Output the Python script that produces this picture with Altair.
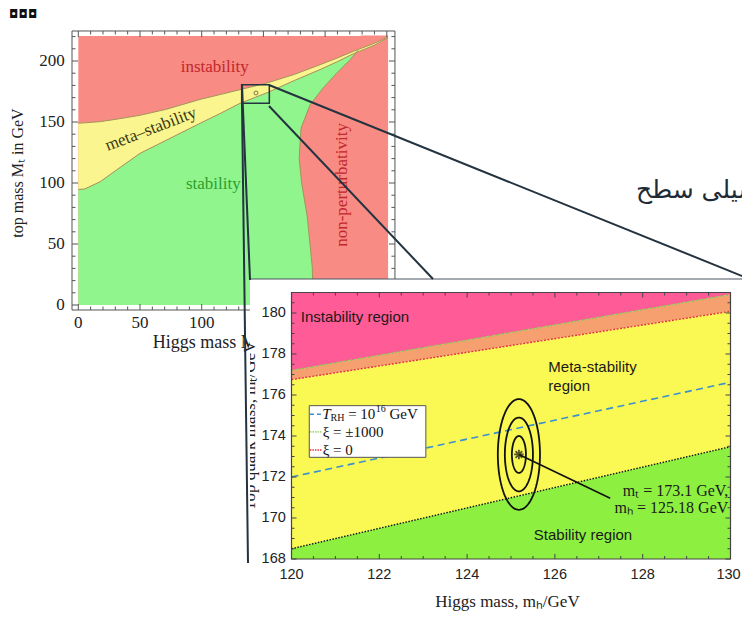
import altair as alt
import numpy as np
import pandas as pd

W, H = 734, 606
M = 8  # page margin

SERIF = "Liberation Serif"
SANS = "Liberation Sans"

# ---------------- left chart: phase diagram (Higgs mass vs top mass) ----------------
pd_x = [0, 5, 17.6, 31, 50, 71.6, 98.6, 115, 131, 153, 175, 196, 210, 223, 240, 251]
pd_lower = [94.8, 95, 101, 110.7, 124.3, 135.2, 148.9, 157, 165.3, 174, 184, 193, 199.5, 206, 213, 219.3]
pd_upper = [149, 149.3, 150.3, 152.3, 155.5, 160.5, 168.5, 172.5, 176.5, 182, 189, 197, 202.5, 208, 214.5, 219.8]
np_y = [0, 31, 72, 100, 120, 145, 164, 178, 190, 201, 209]
np_x = [190.4, 189.6, 185.6, 181, 179, 180.5, 187.8, 198.5, 209.4, 220.2, 226.9]
np_area_y = np_y + [215, 221]
np_area_x = np_x + [228.5, 229]
pd_xtick_labels = [0, 50, 100]          # 150-250 are hidden under the inset
pd_ytick_labels = [0, 50, 100, 150, 200]
pd_xticks = list(range(0, 251, 10))
pd_yticks = list(range(0, 221, 10))
zoom_box = [132.4, 154.8, 165.3, 180.6]
zoom_dot = [144.0, 173.8]

# ---------------- inset: zoom of the SM point ----------------
mh_ends = [120, 130]
xi1000_line = [177.2, 180.9]
xi0_line = [176.75, 180.08]
stab_line = [168.5, 173.48]
trh_line = [172.0, 176.62]
mt_c, mh_c = 173.1, 125.18
mt_sig, mh_sig = 0.9, 0.16
sig_levels = [1, 2, 3]
arrow_end = [127.26, 170.96]
in_xtick_labels = [120, 122, 124, 126, 128, 130]
in_ytick_labels = [168, 170, 172, 174, 176, 178, 180]
in_minor_x = [120 + 0.5 * i for i in range(21)]
in_minor_y = [168 + 0.5 * i for i in range(27)]

# colours
RED = "#F88B84"
YEL = "#FAF58E"
GRN = "#8FF58C"
EDGE = "#A3955A"
PINK = "#FF5B97"
ORNG = "#F7A06F"
IYEL = "#FAF853"
IGRN = "#8DF041"
BLUE = "#3A8FD0"
DRED = "#E33340"
DGRN = "#86C84C"
INK = "#243340"


def bx(v): return 78.3 + v * 1.234 - M
def by(v): return 305 - v * 1.22 - M
def ix(v): return 291.5 + (v - 120) * 43.9 - M
def iy(v): return 559 - (v - 168) * 20.5 - M


def sc(domain, r0, r1):
    return alt.Scale(domain=domain, range=[r0, r1], zero=False, nice=False)


BXS = sc([0, 250], bx(0), bx(250))
BYS = sc([0, 200], by(0), by(200))
IXS = sc([120, 130], ix(120), ix(130))
IYS = sc([168, 180], iy(168), iy(180))
SXS = sc([M, W + M], 0, W)
SYS = sc([M, H + M], 0, H)


def ex(f, s): return alt.X(f, type="quantitative", scale=s, axis=None)
def ey(f, s): return alt.Y(f, type="quantitative", scale=s, axis=None)


def texts(rows, xs, ys, **kw):
    df = pd.DataFrame(rows, columns=["text", "x", "y"])
    return alt.Chart(df).mark_text(**kw).encode(x=ex("x", xs), y=ey("y", ys), text="text:N")


def segs(rows, xs, ys, **kw):
    df = pd.DataFrame(rows, columns=["x", "y", "x2", "y2"])
    return alt.Chart(df).mark_rule(**kw).encode(
        x=ex("x", xs), y=ey("y", ys), x2=alt.X2("x2"), y2=alt.Y2("y2"))


def rect(x1, x2, y1, y2, xs, ys, **kw):
    df = pd.DataFrame({"x": [x1], "x2": [x2], "y": [y1], "y2": [y2]})
    return alt.Chart(df).mark_rect(**kw).encode(
        x=ex("x", xs), x2=alt.X2("x2"), y=ey("y", ys), y2=alt.Y2("y2"))


def path(xv, yv, xs, ys, **kw):
    df = pd.DataFrame({"x": list(xv), "y": list(yv), "i": list(range(len(xv)))})
    return alt.Chart(df).mark_line(**kw).encode(x=ex("x", xs), y=ey("y", ys), order="i:Q")


def varea(xv, lo, hi, xs, ys, color):
    df = pd.DataFrame({"x": list(xv), "lo": list(lo), "hi": list(hi)})
    return alt.Chart(df).mark_area(color=color, opacity=1).encode(
        x=ex("x", xs), y=ey("lo", ys), y2=alt.Y2("hi"))


def ticks_x(vals, xs, y0, y1, **kw):
    df = pd.DataFrame({"v": vals})
    return alt.Chart(df).mark_rule(**kw).encode(x=ex("v", xs), y=alt.value(y0), y2=alt.value(y1))


def ticks_y(vals, ys, x0, x1, **kw):
    df = pd.DataFrame({"v": vals})
    return alt.Chart(df).mark_rule(**kw).encode(y=ey("v", ys), x=alt.value(x0), x2=alt.value(x1))


layers = []

# ---- slide decorations behind ----
layers.append(texts([["◘◘◘", 9, 14]], SXS, SYS, font="DejaVu Sans", fontSize=12,
                    color="#111", align="left", baseline="middle"))
layers.append(texts([["پتانسیلی سطح", 636, 190]], SXS, SYS, font="DejaVu Sans", fontSize=25,
                    color="#1E2A36", align="left", baseline="middle"))

# ---- phase diagram ----
layers.append(rect(0, 251, 0, 220.5, BXS, BYS, color=RED))
layers.append(varea(pd_x, [0] * len(pd_x), pd_lower, BXS, BYS, GRN))
np_df = pd.DataFrame({"y": np_area_y, "x": np_area_x, "x2": [251] * len(np_area_y)})
layers.append(alt.Chart(np_df).mark_area(orient="horizontal", color=RED, opacity=1).encode(
    y=ey("y", BYS), x=ex("x", BXS), x2=alt.X2("x2")))
layers.append(varea(pd_x, pd_lower, pd_upper, BXS, BYS, YEL))
for xv, yv in [(pd_x, pd_lower), (pd_x, pd_upper), (np_x, np_y)]:
    layers.append(path(xv, yv, BXS, BYS, color=EDGE, strokeWidth=1))

FL, FR, FB, FT = -5.1, 256.6, -4.1, 224.6
layers.append(rect(FL, FR, FB, FT, BXS, BYS, fillOpacity=0, stroke="#555", strokeWidth=1))
maj_x = [v for v in pd_xticks if v % 50 == 0]
min_x = [v for v in pd_xticks if v % 50 != 0]
maj_y = [v for v in pd_yticks if v % 50 == 0]
min_y = [v for v in pd_yticks if v % 50 != 0]
for vals, L in [(maj_x, 6), (min_x, 3.5)]:
    layers.append(ticks_x(vals, BXS, by(FB), by(FB) - L, color="#555", strokeWidth=1))
    layers.append(ticks_x(vals, BXS, by(FT), by(FT) + L, color="#555", strokeWidth=1))
for vals, L in [(maj_y, 6), (min_y, 3.5)]:
    layers.append(ticks_y(vals, BYS, bx(FL), bx(FL) + L, color="#555", strokeWidth=1))
    layers.append(ticks_y(vals, BYS, bx(FR), bx(FR) - L, color="#555", strokeWidth=1))
layers.append(texts([[str(v), -11, v] for v in pd_ytick_labels], BXS, BYS, font=SERIF,
                    fontSize=17, color="#222", align="right", baseline="middle"))
layers.append(texts([[str(v), v, -15] for v in pd_xtick_labels], BXS, BYS, font=SERIF,
                    fontSize=17, color="#222", align="center", baseline="middle"))
layers.append(texts([["instability", 110.5, 195.3]], BXS, BYS, font=SERIF, fontSize=17,
                    color="#C1272D", align="center", baseline="middle"))
layers.append(texts([["stability", 109.4, 99.2]], BXS, BYS, font=SERIF, fontSize=17,
                    color="#2E9E2E", align="center", baseline="middle"))
layers.append(texts([["meta–stability", 58.8, 144.1]], BXS, BYS, font=SERIF, fontSize=17,
                    color="#3A3812", align="center", baseline="middle", angle=339))
layers.append(texts([["non-perturbativity", 213.4, 98.4]], BXS, BYS, font=SERIF, fontSize=17,
                    color="#C1272D", align="center", baseline="middle", angle=270))
layers.append(texts([["top mass Mₜ in GeV", -48.6, 108.2]], BXS, BYS, font=SERIF, fontSize=16,
                    color="#222", align="center", baseline="middle", angle=270))
layers.append(texts([["Higgs mass Mₕ in GeV", 60.3, -31.1]], BXS, BYS, font=SERIF, fontSize=18,
                    color="#222", align="left", baseline="middle"))
layers.append(rect(zoom_box[0], zoom_box[1], zoom_box[2], zoom_box[3], BXS, BYS,
                   fillOpacity=0, stroke=INK, strokeWidth=1.5))
layers.append(alt.Chart(pd.DataFrame({"x": [zoom_dot[0]], "y": [zoom_dot[1]]})).mark_point(
    size=14, color="#6b6b40", strokeWidth=1.2).encode(x=ex("x", BXS), y=ey("y", BYS)))

# ---- inset panel (slide) ----
layers.append(rect(250, 760, 279, 640, SXS, SYS, color="white"))
layers.append(segs([[250, 279, 760, 279]], SXS, SYS, color="#4A5560", strokeWidth=1))

# ---- inset regions ----
layers.append(varea(mh_ends, xi1000_line, [181, 181], IXS, IYS, PINK))
layers.append(varea(mh_ends, xi0_line, xi1000_line, IXS, IYS, ORNG))
layers.append(varea(mh_ends, stab_line, xi0_line, IXS, IYS, IYEL))
layers.append(varea(mh_ends, [168, 168], stab_line, IXS, IYS, IGRN))
layers.append(path(mh_ends, xi1000_line, IXS, IYS, color=DGRN, strokeWidth=1.4, strokeDash=[2, 1.5]))
layers.append(path(mh_ends, xi0_line, IXS, IYS, color=DRED, strokeWidth=1.4, strokeDash=[2, 1.5]))
layers.append(path(mh_ends, stab_line, IXS, IYS, color="#111", strokeWidth=1.4, strokeDash=[1.5, 1.5]))
layers.append(path(mh_ends, trh_line, IXS, IYS, color=BLUE, strokeWidth=1.6, strokeDash=[7, 4.5]))

# confidence ellipses around the measured point
t = np.linspace(0, 2 * np.pi, 121)
for k in sig_levels:
    layers.append(path(mh_c + k * mh_sig * np.cos(t), mt_c + k * mt_sig * np.sin(t), IXS, IYS,
                       color="#111", strokeWidth=1.8))
layers.append(segs([[mh_c, mt_c, arrow_end[0], arrow_end[1]]], IXS, IYS, color="#111", strokeWidth=1.6))
star = "M-1,0L1,0M0,-1L0,1M-0.7,-0.7L0.7,0.7M-0.7,0.7L0.7,-0.7"
layers.append(alt.Chart(pd.DataFrame({"x": [mh_c], "y": [mt_c]})).mark_point(
    shape=star, size=90, filled=False, color="#111", strokeWidth=1.8).encode(
    x=ex("x", IXS), y=ey("y", IYS)))

# inset frame and ticks
layers.append(rect(120, 130, 168, 181, IXS, IYS, fillOpacity=0, stroke="#444", strokeWidth=1.2))
imaj_x = [v for v in in_minor_x if v in in_xtick_labels]
imin_x = [v for v in in_minor_x if v not in in_xtick_labels]
imaj_y = [v for v in in_minor_y if v in in_ytick_labels]
imin_y = [v for v in in_minor_y if v not in in_ytick_labels]
for vals, L in [(imaj_x, 5), (imin_x, 3)]:
    layers.append(ticks_x(vals, IXS, iy(168), iy(168) - L, color="#444", strokeWidth=1))
    layers.append(ticks_x(vals, IXS, iy(181), iy(181) + L, color="#444", strokeWidth=1))
for vals, L in [(imaj_y, 5), (imin_y, 3)]:
    layers.append(ticks_y(vals, IYS, ix(120), ix(120) + L, color="#444", strokeWidth=1))
    layers.append(ticks_y(vals, IYS, ix(130), ix(130) - L, color="#444", strokeWidth=1))
layers.append(texts([[str(v), 119.87, v] for v in in_ytick_labels], IXS, IYS, font=SANS,
                    fontSize=14.5, color="#222", align="right", baseline="middle"))
layers.append(texts([[str(v), v, 167.2] for v in in_xtick_labels[:-1]], IXS, IYS, font=SANS,
                    fontSize=14.5, color="#222", align="center", baseline="middle"))
layers.append(texts([[str(in_xtick_labels[-1]), in_xtick_labels[-1], 167.2]], IXS, IYS, font=SANS,
                    fontSize=14.5, color="#222", align="center", baseline="middle", dx=-2))

# inset region labels
layers.append(texts([["Instability region", 120.21, 179.82]], IXS, IYS, font=SANS, fontSize=15,
                    color="#1a1a1a", align="left", baseline="middle"))
layers.append(texts([["Meta-stability", 125.85, 177.38], ["region", 125.85, 176.44]], IXS, IYS,
                    font=SANS, fontSize=15, color="#1a1a1a", align="left", baseline="middle"))
layers.append(texts([["Stability region", 126.64, 169.15]], IXS, IYS, font=SANS, fontSize=15,
                    color="#1a1a1a", align="center", baseline="middle"))
layers.append(texts([["mₜ = 173.1 GeV,", 129.95, 171.32], ["mₕ = 125.18 GeV", 129.95, 170.47]],
                    IXS, IYS, font=SERIF, fontSize=16, color="#1a1a1a", align="right",
                    baseline="middle"))

# legend
layers.append(rect(120.405, 123.06, 172.96, 175.48, IXS, IYS, color="white", stroke="#555",
                   strokeWidth=1))
leg_rows = [175.06, 174.2, 173.32]
layers.append(path([120.42, 120.69], [leg_rows[0]] * 2, IXS, IYS, color=BLUE, strokeWidth=1.5,
                   strokeDash=[4, 3]))
layers.append(path([120.42, 120.69], [leg_rows[1]] * 2, IXS, IYS, color=DGRN, strokeWidth=1.4,
                   strokeDash=[1.5, 1]))
layers.append(path([120.42, 120.69], [leg_rows[2]] * 2, IXS, IYS, color=DRED, strokeWidth=1.4,
                   strokeDash=[1.5, 1]))
layers.append(texts([["T", 120.70, leg_rows[0]]], IXS, IYS, font=SERIF, fontSize=15,
                    fontStyle="italic", color="#111", align="left", baseline="middle"))
layers.append(texts([["RH", 120.89, leg_rows[0]]], IXS, IYS, font=SERIF, fontSize=10,
                    color="#111", align="left", baseline="middle", dy=4))
layers.append(texts([["= 10", 121.29, leg_rows[0]]], IXS, IYS, font=SERIF, fontSize=15,
                    color="#111", align="left", baseline="middle"))
layers.append(texts([["16", 121.92, leg_rows[0]]], IXS, IYS, font=SERIF, fontSize=10,
                    color="#111", align="left", baseline="middle", dy=-5))
layers.append(texts([["GeV", 122.23, leg_rows[0]]], IXS, IYS, font=SERIF, fontSize=15,
                    color="#111", align="left", baseline="middle"))
layers.append(texts([["ξ = ±1000", 120.71, leg_rows[1]], ["ξ = 0", 120.71, leg_rows[2]]], IXS, IYS,
                    font=SERIF, fontSize=15, color="#111", align="left", baseline="middle"))

# inset axis titles
layers.append(texts([["Higgs mass, mₕ/GeV", 124.92, 165.92]], IXS, IYS, font=SERIF, fontSize=17,
                    color="#222", align="center", baseline="middle"))
layers.append(texts([["Top quark mass, mₜ/GeV", 119.17, 174.5]], IXS, IYS, font=SERIF, fontSize=17,
                    color="#222", align="center", baseline="alphabetic", angle=270))
# slide clips the inset's left edge
layers.append(rect(230, 250, 352, 527, SXS, SYS, color="white"))

# ---- connector lines of the zoom ----
layers.append(segs([[269, 85, 747, 278], [269, 106, 433, 279], [242, 85, 250, 280],
                    [242, 104, 248, 563]], SXS, SYS, color=INK, strokeWidth=2))

chart = alt.layer(*layers).resolve_scale(x="independent", y="independent").properties(
    width=W, height=H, padding=0, background="white",
    autosize=alt.AutoSizeParams(type="none")
).configure_view(strokeWidth=0)

chart.save("out.html", embed_options={"renderer": "svg", "actions": False})
